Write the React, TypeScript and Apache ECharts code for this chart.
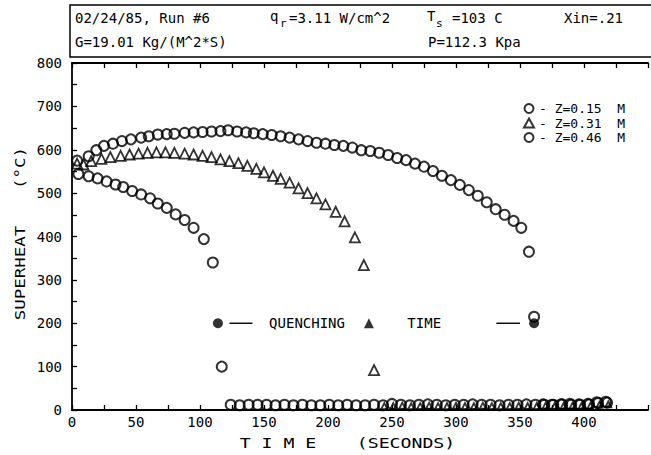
import React, { useEffect, useRef } from "react";
import * as echarts from "echarts";

// ---- data ----
const s1Time = [5, 13, 20, 27, 34, 40, 47, 54, 61, 67, 74, 81, 88, 95, 103, 110, 117,
  124, 131, 138, 145, 152, 159, 166, 173, 180, 187, 194, 201, 208, 215, 222, 229, 236, 243,
  250, 257, 264, 271, 278, 285, 292, 299, 306, 313, 320, 327, 334, 341, 348, 355, 362, 369,
  376, 383, 390, 397, 404, 411, 418];
const s1Temp = [544, 539, 534, 527, 520, 514, 505, 497, 488, 476, 466, 451, 438, 420, 394, 340, 100,
  12, 11, 12, 12, 12, 11, 12, 11, 12, 11, 11, 12, 11, 12, 11, 11, 12, 11,
  14, 12, 11, 12, 13, 12, 11, 12, 12, 13, 12, 12, 11, 12, 12, 13, 12, 12,
  12, 13, 12, 12, 13, 16, 17];

const s2Time = [4, 9, 15, 23, 30, 38, 45, 52, 59, 66, 73, 80, 88, 95, 102, 109, 116, 123, 130,
  137, 144, 150, 157, 163, 170, 177, 184, 191, 198, 206, 213, 221, 228, 236,
  244, 251, 258, 265, 272, 279, 286, 293, 300, 307, 314, 321, 328, 335, 342, 349, 356, 363,
  370, 377, 384, 391, 398, 405, 412, 419];
const s2Temp = [568, 566, 574, 579, 583, 586, 589, 591, 593, 594, 594, 593, 591, 589, 586, 583, 578,
  574, 569, 563, 556, 548, 540, 533, 524, 511, 500, 488, 474, 457, 435, 398, 334, 92,
  9, 9, 10, 9, 9, 10, 9, 9, 10, 9, 9, 10, 9, 9, 9, 10, 9, 9, 10, 9, 9, 10, 9, 10, 12, 13];

const s3Time = [4, 13, 19, 25, 32, 39, 46, 54, 60, 67, 74, 80, 88, 95, 102, 109, 116, 122, 129, 136,
  142, 149, 156, 163, 170, 177, 184, 191, 198, 205, 212, 219, 226, 233, 240, 247, 254, 261, 268,
  275, 282, 289, 296, 303, 310, 317, 324, 331, 338, 345, 351, 357, 361,
  368, 375, 382, 389, 396, 403, 410, 417];
const s3Temp = [575, 585, 599, 609, 614, 620, 624, 628, 631, 635, 636, 637, 639, 640, 641, 642, 643,
  645, 642, 640, 638, 636, 634, 631, 628, 624, 620, 616, 614, 611, 609, 605, 599, 597, 593, 588,
  581, 576, 568, 561, 551, 540, 530, 519, 507, 494, 479, 463, 450, 436, 420, 365, 215,
  13, 12, 13, 14, 13, 14, 18, 19];

const quenchTime = [114, 232, 361];
const quenchTemp = [200, 200, 200];
const quenchSymbol = ["circle", "triangle", "circle"];

const seriesNames = ["Z=0.15 M", "Z=0.31 M", "Z=0.46 M"];
const xTickLabels = [0, 50, 100, 150, 200, 250, 300, 350, 400];
const yTickLabels = [0, 100, 200, 300, 400, 500, 600, 700, 800];

const MONO = "DejaVu Sans Mono";

export default function App() {
  const ref = useRef<HTMLDivElement>(null);
  useEffect(() => {
    if (!ref.current) return;
    const chart = echarts.init(ref.current, undefined, { renderer: "svg" });
    const pair = (t: number[], v: number[]) => t.map((x, i) => [x, v[i]]);
    const openStyle = { color: "rgba(0,0,0,0)", borderColor: "#000", borderWidth: 2 };
    const axisLine = { show: true, lineStyle: { color: "#000", width: 1.8 } };
    const tick = { show: true, inside: true, length: 5, lineStyle: { color: "#000", width: 1.3 } };
    chart.setOption({
      animation: false,
      backgroundColor: "#fff",
      grid: { left: 72, top: 63, width: 585, height: 347, show: false },
      xAxis: [
        {
          type: "value", min: 0, max: 450, interval: 25, position: "bottom",
          axisLine, axisTick: tick, splitLine: { show: false },
          axisLabel: {
            formatter: (v: number) => (xTickLabels.includes(v) ? String(v) : ""),
            color: "#000", fontFamily: MONO, fontSize: 14, margin: 5,
          },
        },
        {
          type: "value", min: 0, max: 450, interval: 25, position: "top",
          axisLine, axisTick: tick, splitLine: { show: false }, axisLabel: { show: false },
        },
      ],
      yAxis: [
        {
          type: "value", min: 0, max: 800, interval: 50,
          axisLine, axisTick: tick, splitLine: { show: false },
          axisLabel: {
            formatter: (v: number) => (yTickLabels.includes(v) ? String(v) : ""),
            color: "#000", fontFamily: MONO, fontSize: 14, margin: 10,
          },
        },
      ],
      legend: {
        orient: "vertical", left: 518, top: 97, itemWidth: 10, itemHeight: 9, itemGap: 1.5,
        data: seriesNames,
        formatter: (n: string) => "- " + n.replace(" ", "  "),
        textStyle: { fontFamily: MONO, fontSize: 13, color: "#000", lineHeight: 10 },
        selectedMode: false,
      },
      series: [
        {
          name: seriesNames[0], type: "scatter", symbol: "circle", symbolSize: 10,
          itemStyle: openStyle, data: pair(s1Time, s1Temp), silent: true,
        },
        {
          name: seriesNames[1], type: "scatter", symbol: "triangle",
          symbolSize: (val: number[]) => (val[1] < 50 ? 6 : 10),
          itemStyle: { ...openStyle, borderWidth: 1.8 }, data: pair(s2Time, s2Temp), silent: true,
        },
        {
          name: seriesNames[2], type: "scatter", symbol: "circle", symbolSize: 10,
          itemStyle: openStyle, data: pair(s3Time, s3Temp), silent: true,
        },
        {
          name: "quench", type: "scatter", symbolSize: 10, silent: true,
          itemStyle: { color: "#000" },
          data: quenchTime.map((t, i) => ({ value: [t, quenchTemp[i]], symbol: quenchSymbol[i] })),
        },
      ],
    });

    const px = (t: number, v: number) => chart.convertToPixel({ gridIndex: 0 }, [t, v]) as number[];
    const [q1x, qy] = px(123, 200);
    const [q2x] = px(141, 200);
    const [q3x] = px(331.5, 200);
    const [q4x] = px(350, 200);
    const [qtx] = px(154, 200);
    const [ttx] = px(262, 200);
    const txt = (text: string, x: number, y: number, size: number, extra: any = {}) => ({
      type: "text", x, y, ...extra,
      style: { text, x: 0, y: 0, fill: "#000", font: `${size}px "${MONO}"`, textVerticalAlign: "middle", ...(extra.style || {}) },
    });
    chart.setOption({
      graphic: [
        { type: "rect", shape: { x: 70, y: 5, width: 620, height: 52 }, style: { fill: "none", stroke: "#000", lineWidth: 1.5 } },
        txt("02/24/85, Run #6", 75, 18, 14),
        txt("q", 270, 16, 14),
        txt("r", 280, 23, 11),
        txt("=3.11 W/cm^2", 289, 18, 14),
        txt("T", 427, 16, 14),
        txt("s", 436, 23, 11),
        txt("=103 C", 452, 18, 14),
        txt("Xin=.21", 564, 18, 14),
        txt("G=19.01 Kg/(M^2*S)", 75, 42, 14),
        txt("P=112.3 Kpa", 428, 42, 14),
        txt("SUPERHEAT", 20, 273, 14, { rotation: Math.PI / 2, scaleX: 1.25, style: { textAlign: "center" } }),
        txt("(°C)", 20, 168, 14, { rotation: Math.PI / 2, scaleX: 1.25, style: { textAlign: "center" } }),
        txt("T I M E", 278, 443, 14, { scaleX: 1.3, style: { textAlign: "center" } }),
        txt("(SECONDS)", 406, 443, 14, { scaleX: 1.3, style: { textAlign: "center" } }),
        txt("QUENCHING", qtx, qy, 14),
        txt("TIME", ttx, qy, 14),
        { type: "line", shape: { x1: q1x, y1: qy, x2: q2x, y2: qy }, style: { stroke: "#000", lineWidth: 1.4 } },
        { type: "line", shape: { x1: q3x, y1: qy, x2: q4x, y2: qy }, style: { stroke: "#000", lineWidth: 1.4 } },
      ],
    });
    return () => chart.dispose();
  }, []);
  return <div ref={ref} style={{ position: "absolute", left: 0, top: 0, width: 651, height: 455 }} />;
}
